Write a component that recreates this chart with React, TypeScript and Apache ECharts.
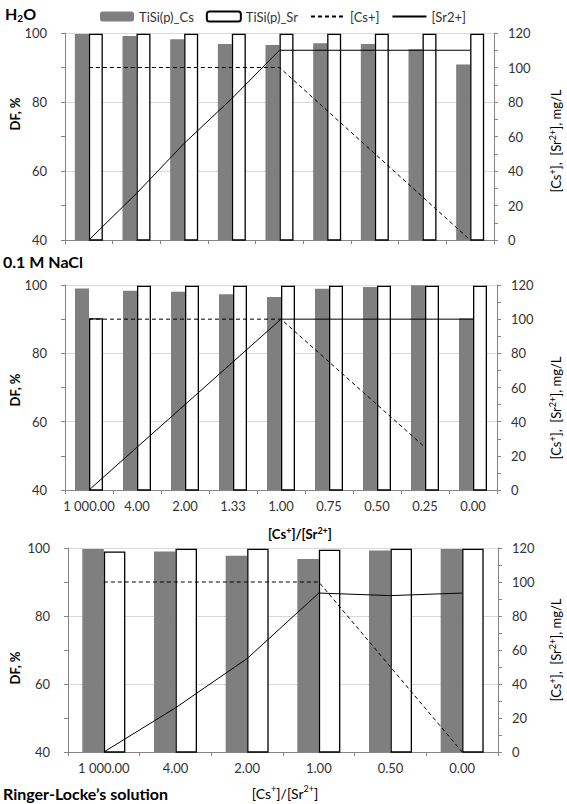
import React, { useEffect, useRef } from 'react';
import * as echarts from 'echarts';

// ---------- data ----------
const ratios9 = ['1 000.00', '4.00', '2.00', '1.33', '1.00', '0.75', '0.50', '0.25', '0.00'];
const ratios6 = ['1 000.00', '4.00', '2.00', '1.00', '0.50', '0.00'];

const h2oCsDF = [99.7, 99.1, 98.2, 96.8, 96.5, 97.0, 96.8, 95.3, 90.9];
const h2oSrDF = [99.8, 99.8, 99.8, 99.8, 99.8, 99.8, 99.8, 99.8, 99.8];
const h2oCs = [100, 100, 100, 100, 100, 75, 50, 25, 0];
const h2oSr = [0, 27, 56, 82, 110, 110, 110, 110, 110];

const naclCsDF = [99.0, 98.3, 98.0, 97.3, 96.5, 98.9, 99.4, 99.9, 90.3];
const naclSrDF = [90.3, 99.8, 99.8, 99.8, 99.8, 99.8, 99.8, 99.8, 99.8];
const naclCs = [100, 100, 100, 100, 100, 75, 50, 25, null];
const naclSr = [0, 25, 50, 75, 100, 100, 100, 100, 100];

const ringerCsDF = [99.7, 99.0, 97.7, 96.8, 99.3, 99.7];
const ringerSrDF = [99.0, 99.8, 99.8, 99.5, 99.8, 99.8];
const ringerCs = [100, 100, 100, 100, 50, 0];
const ringerSr = [0, 26, 55, 93.5, 92, 93.5];

const dfTicks = { min: 40, max: 100, interval: 20 };
const concTicks = { min: 0, max: 120, interval: 20 };

const seriesNames = ['TiSi(p)_Cs', 'TiSi(p)_Sr', '[Cs+]', '[Sr2+]'];

// ---------- style ----------
const FONT = 'Lato';
const AXIS = '#868686';
const TEXT = '#333333';

const panels = [
  { cats: ratios9, cs: h2oCsDF, sr: h2oSrDF, csC: h2oCs, srC: h2oSr, grid: { left: 65, top: 33, width: 429, height: 207 }, barW: 14, labels: false },
  { cats: ratios9, cs: naclCsDF, sr: naclSrDF, csC: naclCs, srC: naclSr, grid: { left: 65, top: 285, width: 432, height: 205 }, barW: 14, labels: true },
  { cats: ratios6, cs: ringerCsDF, sr: ringerSrDF, csC: ringerCs, srC: ringerSr, grid: { left: 68, top: 548, width: 430, height: 204 }, barW: 21.5, labels: true },
];

function buildOption() {
  const grid: any[] = [];
  const xAxis: any[] = [];
  const yAxis: any[] = [];
  const series: any[] = [];
  panels.forEach((p, i) => {
    grid.push({ ...p.grid, containLabel: false });
    xAxis.push({
      type: 'category', gridIndex: i, data: p.cats, boundaryGap: true,
      axisLine: { show: true, lineStyle: { color: AXIS, width: 1 } },
      axisTick: { show: true, length: 4, lineStyle: { color: AXIS } },
      axisLabel: { show: p.labels, color: TEXT, fontFamily: FONT, fontSize: 13, margin: 9, interval: 0 },
      splitLine: { show: false },
    });
    yAxis.push({
      type: 'value', gridIndex: i, position: 'left', ...dfTicks,
      axisLine: { show: true, lineStyle: { color: AXIS } },
      axisTick: { show: true, length: 4, lineStyle: { color: AXIS } },
      minorTick: { show: true, splitNumber: 2, length: 4, lineStyle: { color: AXIS } },
      splitLine: { show: true, lineStyle: { color: '#d9d9d9', width: 1 } },
      axisLabel: { color: TEXT, fontFamily: FONT, fontSize: 13, margin: 18 },
    });
    yAxis.push({
      type: 'value', gridIndex: i, position: 'right', ...concTicks,
      axisLine: { show: true, lineStyle: { color: AXIS } },
      axisTick: { show: true, length: 4, lineStyle: { color: AXIS } },
      minorTick: { show: true, splitNumber: 2, length: 4, lineStyle: { color: AXIS } },
      splitLine: { show: false },
      axisLabel: { color: TEXT, fontFamily: FONT, fontSize: 13, margin: 14 },
    });
    series.push({
      name: seriesNames[0], type: 'bar', xAxisIndex: i, yAxisIndex: 2 * i, data: p.cs,
      barWidth: p.barW, barGap: '0%', clip: true,
      itemStyle: { color: '#7f7f7f' },
    });
    series.push({
      name: seriesNames[1], type: 'bar', xAxisIndex: i, yAxisIndex: 2 * i, data: p.sr,
      barWidth: p.barW, barGap: '0%', clip: true,
      itemStyle: { color: '#ffffff', borderColor: '#000000', borderWidth: 1.3 },
    });
    series.push({
      name: seriesNames[2], type: 'line', xAxisIndex: i, yAxisIndex: 2 * i + 1, data: p.csC,
      symbol: 'none', showSymbol: false, connectNulls: false, z: 5,
      lineStyle: { color: '#000', width: 1, type: [4, 3] }, itemStyle: { color: '#000' },
    });
    series.push({
      name: seriesNames[3], type: 'line', xAxisIndex: i, yAxisIndex: 2 * i + 1, data: p.srC,
      symbol: 'none', showSymbol: false, z: 5,
      lineStyle: { color: '#000', width: 1 }, itemStyle: { color: '#000' },
    });
  });

  const supRich = {
    sup: { fontSize: 9, fontFamily: FONT, fill: '#000', verticalAlign: 'top', lineHeight: 9 },
  };
  const vText = (x: number, y: number, text: string, bold: boolean, rich?: any) => ({
    type: 'text', x, y, rotation: Math.PI / 2, z: 100,
    style: {
      text, align: 'center', verticalAlign: 'middle', fontFamily: FONT, fontSize: 13,
      fontWeight: bold ? 'bold' : 'normal', fill: '#000', lineHeight: 16, rich,
    },
  });
  const hText = (x: number, y: number, text: string, size: number, bold: boolean, align = 'left', rich?: any) => ({
    type: 'text', x, y, z: 100,
    style: {
      text, align, verticalAlign: 'middle', fontFamily: FONT, fontSize: size,
      fontWeight: bold ? 'bold' : 'normal', fill: '#000', lineHeight: size + 4, rich,
    },
  });
  const concName = '[Cs{sup|+}],  [Sr{sup|2+}], mg/L';
  const ratioName = '[Cs{sup|+}]/[Sr{sup|2+}]';
  const boldSup = { sup: { ...supRich.sup, fontWeight: 'bold' } };

  const graphic = [
    hText(5, 13, 'H{sub|2}O', 16, true, 'left', {
      sub: { fontSize: 10, fontFamily: FONT, fontWeight: 'bold', fill: '#000', verticalAlign: 'bottom', lineHeight: 10 },
    }),
    hText(3, 261, '0.1 M NaCl', 16, true),
    hText(3, 793, 'Ringer-Locke\u2019s solution', 16, true),
    hText(300, 534, ratioName, 13, true, 'center', boldSup),
    hText(285, 793, ratioName, 14, false, 'center', supRich),
    vText(15, 114, 'DF, %', true),
    vText(15, 390, 'DF, %', true),
    vText(15, 668, 'DF, %', true),
    vText(556, 141, concName, false, supRich),
    vText(556, 408, concName, false, supRich),
    vText(556, 650, concName, false, supRich),
  ];

  const hiddenSymbol = { color: 'rgba(0,0,0,0)', borderWidth: 0, opacity: 0 };

  return {
    animation: false,
    backgroundColor: '#ffffff',
    textStyle: { fontFamily: FONT },
    legend: {
      top: 5, left: 95, itemWidth: 34, itemHeight: 10, itemGap: 12,
      data: [
        { name: seriesNames[0] },
        { name: seriesNames[1] },
        { name: seriesNames[2], itemStyle: hiddenSymbol },
        { name: seriesNames[3], itemStyle: hiddenSymbol },
      ],
      textStyle: { color: TEXT, fontFamily: FONT, fontSize: 13 },
    },
    grid, xAxis, yAxis, series, graphic,
  };
}

export default function App() {
  const ref = useRef<HTMLDivElement>(null);
  useEffect(() => {
    const chart = echarts.init(ref.current as HTMLDivElement, null, { renderer: 'svg' });
    chart.setOption(buildOption() as any);
    return () => chart.dispose();
  }, []);
  return (
    <div
      ref={ref}
      style={{ position: 'absolute', left: 0, top: 0, width: 567, height: 804, background: '#fff' }}
    />
  );
}
